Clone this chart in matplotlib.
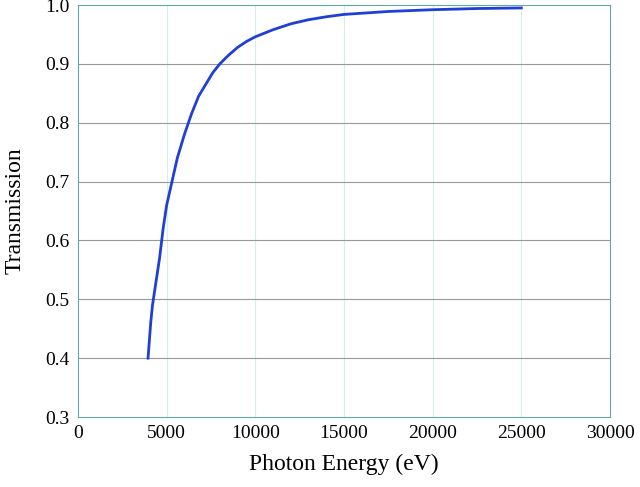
import matplotlib
matplotlib.use("Agg")
import matplotlib.pyplot as plt

energy = [3950, 4000, 4100, 4200, 4400, 4600, 4800, 5000, 5300, 5600, 6000, 6400, 6800, 7200, 7600, 8000, 8500, 9000, 9500, 10000, 11000, 12000, 13000, 14000, 15000, 16000, 17500, 20000, 22500, 25000]
trans = [0.40, 0.42, 0.46, 0.49, 0.53, 0.57, 0.62, 0.66, 0.70, 0.74, 0.78, 0.815, 0.845, 0.865, 0.885, 0.90, 0.915, 0.928, 0.938, 0.946, 0.958, 0.968, 0.975, 0.980, 0.984, 0.986, 0.989, 0.992, 0.994, 0.995]

plt.rcParams["font.family"] = "Liberation Serif"
fig = plt.figure(figsize=(6.4, 4.87), dpi=100)
ax = fig.add_axes([78/640, 70/487, 532/640, 412/487])
ax.plot(energy, trans, color="#1f3fd6", lw=2)
ax.set_xlim(0, 30000)
ax.set_ylim(0.3, 1.0)
ax.set_xticks(range(0, 30001, 5000))
ax.set_yticks([0.3, 0.4, 0.5, 0.6, 0.7, 0.8, 0.9, 1.0])
ax.yaxis.set_major_formatter(matplotlib.ticker.FormatStrFormatter("%.1f"))
for v in range(5000, 30000, 5000):
    ax.axvline(v, color="#d8eeee", lw=0.8, zorder=0)
for v in [0.4, 0.5, 0.6, 0.7, 0.8, 0.9]:
    ax.axhline(v, color="#999999", lw=0.8, zorder=0)
for s in ax.spines.values():
    s.set_color("#5fa8a8")
ax.tick_params(length=0, labelsize=14, pad=6)
ax.set_xlabel("Photon Energy (eV)", fontsize=17, labelpad=8)
ax.set_ylabel("Transmission", fontsize=17, labelpad=14)
fig.savefig("out.png", dpi=100)
